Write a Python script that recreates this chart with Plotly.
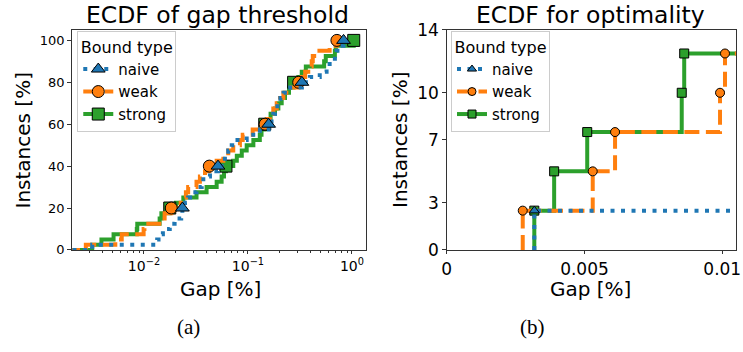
import plotly.graph_objects as go

# ---------------- data ----------------
bound_types = ["naive", "weak", "strong"]

gap_naive = [0.00318, 0.0134, 0.0138, 0.0152, 0.0177, 0.0197, 0.0228, 0.0234,
             0.0248, 0.0266, 0.0294, 0.0320, 0.0359, 0.0372, 0.0431, 0.0515,
             0.0558, 0.0600, 0.0646, 0.0698, 0.0750, 0.0972, 0.1302, 0.158,
             0.1685, 0.175, 0.182, 0.192, 0.205, 0.220, 0.255, 0.330,
             0.394, 0.490, 0.570, 0.610, 0.685, 0.713, 0.770, 0.830]

gap_weak = [0.00276, 0.0053, 0.00611, 0.00992, 0.0101, 0.0147, 0.0158, 0.0183,
            0.02255, 0.0235, 0.0253, 0.0266, 0.0320, 0.0345, 0.0386, 0.0425,
            0.0500, 0.0580, 0.0646, 0.0722, 0.0837, 0.0890, 0.1110, 0.146,
            0.1535, 0.1625, 0.1752, 0.189, 0.2035, 0.219, 0.245, 0.3075,
            0.329, 0.355, 0.380, 0.410, 0.420, 0.465, 0.610, 0.7165]

gap_strong = [0.00318, 0.0039, 0.0051, 0.00853, 0.00862, 0.01415, 0.0147, 0.0177,
              0.0203, 0.0239, 0.0320, 0.0400, 0.0500, 0.0558, 0.0588, 0.0614,
              0.0722, 0.0781, 0.0872, 0.0972, 0.1127, 0.1300, 0.1350, 0.145,
              0.1535, 0.165, 0.182, 0.196, 0.211, 0.227, 0.248, 0.2747,
              0.305, 0.329, 0.360, 0.540, 0.560, 0.685, 0.700, 1.04]

gaps = {"naive": gap_naive, "weak": gap_weak, "strong": gap_strong}

left_title = "ECDF of gap threshold"
right_title = "ECDF for optimality"
x_label = "Gap [%]"
y_label = "Instances [%]"
legend_title = "Bound type"
captions = ["(a)", "(b)"]

left_xtick_vals = [0.01, 0.1, 1]
left_xtick_text = ["10<sup>\u22122</sup>", "10<sup>\u22121</sup>", "10<sup>0</sup>"]
left_ytick_vals = [0, 20, 40, 60, 80, 100]
right_xtick_vals = [0, 0.005, 0.01]
right_xtick_text = ["0", "0.005", "0.01"]
right_ytick_vals = [0, 3, 7, 10, 14]

# ---------------- styles ----------------
colors = {"naive": "#1f77b4", "weak": "#ff7f0e", "strong": "#2ca02c"}
symbols = {"naive": "triangle-up", "weak": "circle", "strong": "square"}
dashes = {"naive": "4px,6.5px", "weak": "15px,6.5px", "strong": "solid"}
FONT = "DejaVu Sans"
AX = "#333333"


def ecdf(vals):
    xs = sorted(vals)
    n = len(xs)
    ys = [100.0 * (i + 1) / n for i in range(n)]
    return xs, ys


fig = go.Figure()

draw_order = ["strong", "weak", "naive"]

# left panel
for b in draw_order:
    xs, ys = ecdf(gaps[b])
    fig.add_trace(go.Scatter(x=[1e-4] + xs, y=[0] + ys, mode="lines", line_shape="hv",
                             line=dict(color=colors[b], width=4, dash=dashes[b]),
                             xaxis="x", yaxis="y", showlegend=False, hoverinfo="skip"))
    fig.add_trace(go.Scatter(x=xs[7::8], y=ys[7::8], mode="markers",
                             marker=dict(symbol=symbols[b], size=12, color=colors[b],
                                         line=dict(color="black", width=1)),
                             xaxis="x", yaxis="y", showlegend=False))

# right panel
for b in draw_order:
    xs, ys = ecdf(gaps[b])
    fig.add_trace(go.Scatter(x=[xs[0]] + xs, y=[0] + ys, mode="lines", line_shape="hv",
                             line=dict(color=colors[b], width=4, dash=dashes[b]),
                             xaxis="x2", yaxis="y2", showlegend=False, hoverinfo="skip"))
    fig.add_trace(go.Scatter(x=xs, y=ys, mode="markers",
                             marker=dict(symbol=symbols[b], size=9, color=colors[b],
                                         line=dict(color="black", width=1)),
                             xaxis="x2", yaxis="y2", showlegend=False))

# legend entries
for i, b in enumerate(bound_types):
    fig.add_trace(go.Scatter(x=[None], y=[None], mode="lines+markers", name=b,
                             line=dict(color=colors[b], width=4, dash=dashes[b]),
                             marker=dict(symbol=symbols[b], size=12, color=colors[b],
                                         line=dict(color="black", width=1)),
                             xaxis="x", yaxis="y", legend="legend", legendrank=i + 1))
    fig.add_trace(go.Scatter(x=[None], y=[None], mode="lines+markers", name=b,
                             line=dict(color=colors[b], width=4, dash=dashes[b]),
                             marker=dict(symbol=symbols[b], size=8, color=colors[b],
                                         line=dict(color="black", width=1)),
                             xaxis="x2", yaxis="y2", legend="legend2", legendrank=i + 1))

minor_vals = [k * 10 ** e for e in range(-3, 1) for k in range(2, 10)]

axis_common = dict(showline=True, mirror=True, linecolor=AX, linewidth=1,
                   ticks="outside", ticklen=3.5, tickcolor=AX, tickwidth=1,
                   showgrid=False, zeroline=False, automargin=False)

legend_common = dict(font=dict(family=FONT, size=15, color="black"),
                     bgcolor="white", bordercolor="#cccccc", borderwidth=1,
                     xanchor="left", yanchor="top", tracegroupgap=0,
                     itemsizing="trace", itemclick=False)

fig.update_layout(
    width=743, height=352,
    margin=dict(l=0, r=0, t=0, b=0, autoexpand=False),
    paper_bgcolor="white", plot_bgcolor="white",
    font=dict(family=FONT, color="black"),
    xaxis=dict(type="log", range=[-2.695, 0.135], domain=[0.0965, 0.4926], anchor="y",
               tickvals=left_xtick_vals, ticktext=left_xtick_text,
               tickfont=dict(size=14, family=FONT),
               minor=dict(tickvals=minor_vals, ticks="outside", ticklen=2,
                          tickcolor=AX, showgrid=False),
               **axis_common),
    yaxis=dict(range=[0, 105], domain=[0.29, 0.915], anchor="x",
               tickvals=left_ytick_vals, tickfont=dict(size=13, family=FONT),
               **axis_common),
    xaxis2=dict(range=[0, 0.0105], domain=[0.6012, 0.9906], anchor="y2",
                tickvals=right_xtick_vals, ticktext=right_xtick_text,
                tickfont=dict(size=17, family=FONT), **axis_common),
    yaxis2=dict(range=[0, 14], domain=[0.29, 0.915], anchor="x2",
                tickvals=right_ytick_vals, tickfont=dict(size=17, family=FONT),
                **axis_common),
    legend=dict(x=0.104, y=1 - 31 / 352, title=dict(text=legend_title, side="top center",
                                                   font=dict(size=16, family=FONT)),
                **legend_common),
    legend2=dict(x=0.607, y=1 - 31 / 352, title=dict(text=legend_title, side="top center",
                                                    font=dict(size=16, family=FONT)),
                 **legend_common),
)

ann = []
ann.append(dict(text=left_title, x=217.5 / 743, y=1 - 15 / 352, xref="paper", yref="paper",
                showarrow=False, font=dict(size=23.5, family=FONT), xanchor="center", yanchor="middle"))
ann.append(dict(text=right_title, x=590 / 743, y=1 - 15 / 352, xref="paper", yref="paper",
                showarrow=False, font=dict(size=23.5, family=FONT), xanchor="center", yanchor="middle"))
ann.append(dict(text=x_label, x=220 / 743, y=1 - 289 / 352, xref="paper", yref="paper",
                showarrow=False, font=dict(size=20, family=FONT), xanchor="center", yanchor="middle"))
ann.append(dict(text=x_label, x=590 / 743, y=1 - 289 / 352, xref="paper", yref="paper",
                showarrow=False, font=dict(size=20, family=FONT), xanchor="center", yanchor="middle"))
ann.append(dict(text=y_label, x=22.5 / 743, y=1 - 141 / 352, xref="paper", yref="paper",
                showarrow=False, textangle=-90, font=dict(size=20, family=FONT),
                xanchor="center", yanchor="middle"))
ann.append(dict(text=y_label, x=400 / 743, y=1 - 140 / 352, xref="paper", yref="paper",
                showarrow=False, textangle=-90, font=dict(size=20, family=FONT),
                xanchor="center", yanchor="middle"))
ann.append(dict(text=captions[0], x=188 / 743, y=1 - 327 / 352, xref="paper", yref="paper",
                showarrow=False, font=dict(size=21, family="Liberation Serif"),
                xanchor="center", yanchor="middle"))
ann.append(dict(text=captions[1], x=532 / 743, y=1 - 327 / 352, xref="paper", yref="paper",
                showarrow=False, font=dict(size=21, family="Liberation Serif"),
                xanchor="center", yanchor="middle"))
fig.update_layout(annotations=ann)

fig.write_html("out.html", config={"displayModeBar": False, "staticPlot": True},
               post_script="document.body.style.margin='0';document.body.style.overflow='hidden';")
